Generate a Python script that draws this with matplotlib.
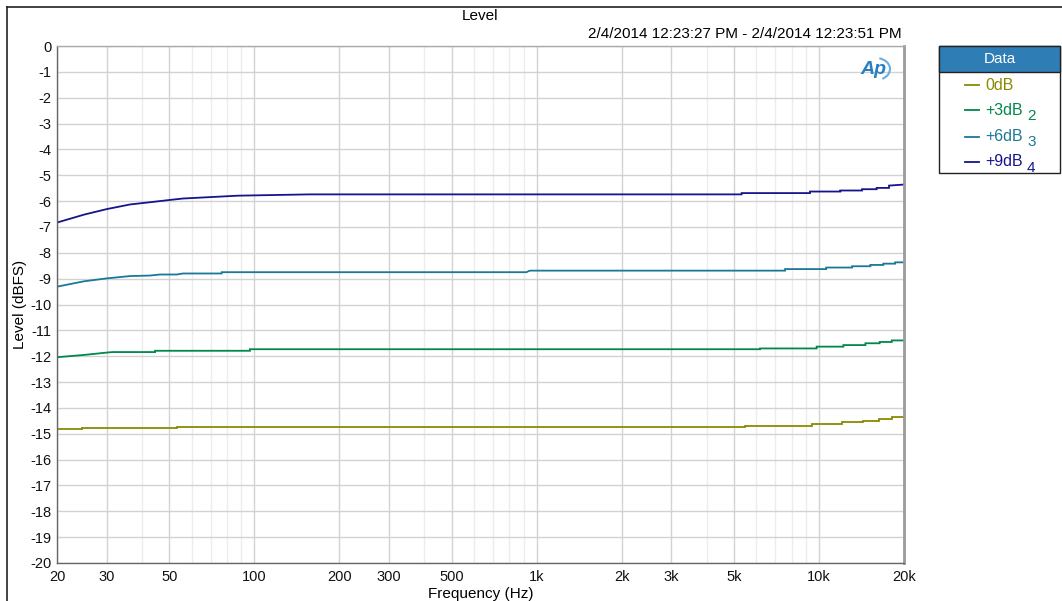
import matplotlib
matplotlib.use("Agg")
import matplotlib.pyplot as plt
from matplotlib.lines import Line2D
from matplotlib.patches import Rectangle, Arc
from matplotlib.ticker import FixedLocator, NullFormatter

plt.rcParams['font.family'] = ['Liberation Sans', 'DejaVu Sans']

# ---- data ----
f_0db = [20, 24.5, 24.5, 53.1, 53.1, 5470, 5470, 9420, 9420, 12100, 12100, 14300,
         14300, 16300, 16300, 18100, 18100, 20000]
l_0db = [-14.83, -14.83, -14.78, -14.78, -14.74, -14.74, -14.69, -14.69, -14.62, -14.62,
         -14.56, -14.56, -14.51, -14.51, -14.43, -14.43, -14.37, -14.37]

f_3db = [20, 25, 30, 31.5, 44.5, 44.5, 96.5, 96.5, 6180, 6180, 9810, 9810, 12200, 12200,
         14600, 14600, 16400, 16400, 18100, 18100, 20000]
l_3db = [-12.04, -11.95, -11.86, -11.84, -11.84, -11.79, -11.79, -11.73, -11.73, -11.70,
         -11.70, -11.63, -11.63, -11.57, -11.57, -11.50, -11.50, -11.45, -11.45, -11.39, -11.39]

f_6db = [20, 25, 30, 36.3, 42.7, 46.3, 53.1, 55.9, 76.6, 76.6, 920, 940, 950, 7580, 7580,
         10600, 10600, 13100, 13100, 15200, 15200, 16900, 16900, 18600, 18600, 20000]
l_6db = [-9.31, -9.10, -8.99, -8.90, -8.88, -8.84, -8.84, -8.80, -8.80, -8.75, -8.75, -8.70,
         -8.69, -8.69, -8.63, -8.63, -8.57, -8.57, -8.52, -8.52, -8.47, -8.47, -8.42, -8.42,
         -8.37, -8.37]

f_9db = [20, 25, 30, 36.3, 43, 49.8, 55.9, 68.5, 87.5, 157, 5320, 5320, 9290, 9290, 11900,
         11900, 14200, 14200, 16000, 16000, 17700, 17700, 20000]
l_9db = [-6.83, -6.52, -6.31, -6.13, -6.04, -5.96, -5.90, -5.85, -5.79, -5.74, -5.74, -5.69,
         -5.69, -5.63, -5.63, -5.59, -5.59, -5.54, -5.54, -5.49, -5.49, -5.40, -5.36]

series_names = ["0dB", "+3dB", "+6dB", "+9dB"]
series_sub = ["", "2", "3", "4"]
colors = ["#8a8a00", "#00874a", "#1a7896", "#14148c"]

x_ticks = [20, 30, 50, 100, 200, 300, 500, 1000, 2000, 3000, 5000, 10000, 20000]
x_tick_labels = ["20", "30", "50", "100", "200", "300", "500", "1k", "2k", "3k", "5k", "10k", "20k"]
y_ticks = list(range(0, -21, -1))

W, H = 1062, 601
fig = plt.figure(figsize=(W / 100, H / 100), dpi=100)
ax = fig.add_axes([57 / W, (H - 563) / H, 847 / W, 517 / H])

for fx, ly, c in zip([f_0db, f_3db, f_6db, f_9db], [l_0db, l_3db, l_6db, l_9db], colors):
    ax.plot(fx, ly, color=c, lw=1.3, solid_joinstyle='miter')

ax.set_xscale('log')
ax.set_xlim(20, 20000)
ax.set_ylim(-20, 0)
ax.xaxis.set_major_locator(FixedLocator(x_ticks))
ax.set_xticklabels(x_tick_labels)
minor = [m * d for d in (10, 100, 1000, 10000) for m in range(2, 10)]
minor = [v for v in minor if 20 < v < 20000 and v not in x_ticks]
ax.xaxis.set_minor_locator(FixedLocator(minor))
ax.xaxis.set_minor_formatter(NullFormatter())
ax.set_yticks(y_ticks)
ax.set_yticklabels([str(v) for v in y_ticks])
ax.tick_params(axis='both', which='both', length=0, labelsize=10.5, colors='#111111')
ax.tick_params(axis='x', pad=5)
ax.tick_params(axis='y', pad=4)
ax.grid(True, which='major', color='#d2d2d2', lw=1.0)
ax.grid(True, which='minor', axis='x', color='#ececec', lw=1.0)
ax.set_axisbelow(True)
for s in ['left', 'bottom']:
    ax.spines[s].set_color('#666666')
    ax.spines[s].set_linewidth(1.0)
ax.spines['right'].set_color('#9a9a9a')
ax.spines['right'].set_linewidth(2.0)
ax.spines['top'].set_color('#aaaaaa')
ax.spines['top'].set_linewidth(1.0)

ax.set_xlabel("Frequency (Hz)", fontsize=11, labelpad=2)
ax.set_ylabel("Level (dBFS)", fontsize=11, labelpad=2)

def px(x, y):
    return x / W, 1 - y / H

fig.text(*px(480, 16), "Level", ha='center', va='center', fontsize=11)
fig.text(*px(902, 34), "2/4/2014 12:23:27 PM - 2/4/2014 12:23:51 PM", ha='right', va='center', fontsize=11)

# AP logo
fig.text(*px(873, 69), "Ap", ha='center', va='center', fontsize=14, color='#2a7fc0',
         fontstyle='italic', fontweight='bold')
fig.add_artist(Arc(px(876, 69), 28 / W, 22 / H, theta1=-70, theta2=80, transform=fig.transFigure,
                   color='#6aaee0', lw=1.5))

# outer frame
fig.add_artist(Line2D([7 / W, 7 / W], [0, 1 - 7 / H], color='#222222', lw=1.2, transform=fig.transFigure))
fig.add_artist(Line2D([7 / W, 1], [1 - 7 / H, 1 - 7 / H], color='#222222', lw=1.2, transform=fig.transFigure))

# legend
lx0, ly0, lx1, ly1 = 939, 46, 1060, 173
fig.add_artist(Rectangle(px(lx0, ly1), (lx1 - lx0) / W, (ly1 - ly0) / H, transform=fig.transFigure,
                         facecolor='white', edgecolor='#222222', lw=1.0))
fig.add_artist(Rectangle(px(lx0, 72), (lx1 - lx0) / W, (72 - ly0) / H, transform=fig.transFigure,
                         facecolor='#2f7db5', edgecolor='#222222', lw=1.0))
fig.text(*px(1000, 59), "Data", ha='center', va='center', fontsize=11, color='white')
ys = [85, 110, 136.5, 161.5]
for name, sub, c, yy in zip(series_names, series_sub, colors, ys):
    fig.add_artist(Line2D([965 / W, 979 / W], [1 - yy / H] * 2, color=c, lw=1.3, transform=fig.transFigure))
    fig.text(*px(985, yy), name, ha='left', va='center', fontsize=11.5, color=c)
    if sub:
        fig.text(*px(1027, yy + 6), sub, ha='left', va='center', fontsize=11, color=c)

fig.savefig("out.png", dpi=100)
